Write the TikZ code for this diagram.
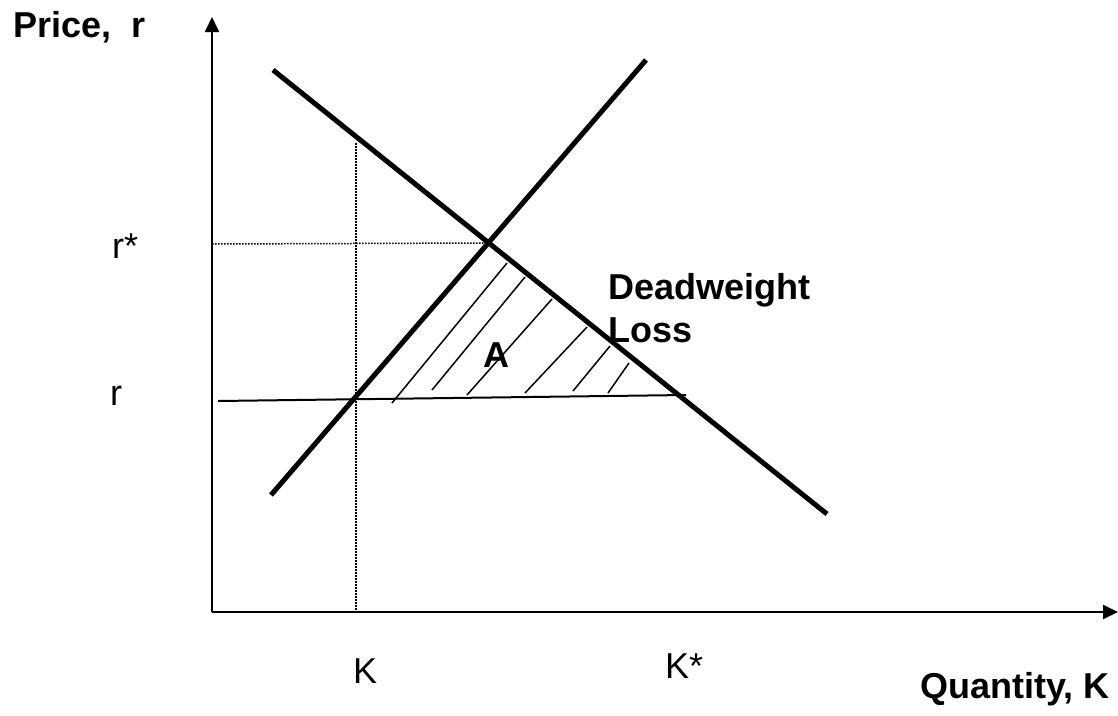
\documentclass[tikz,border=0pt]{standalone}
\usepackage{fontspec}
\setmainfont{Liberation Sans}
\usetikzlibrary{arrows.meta, positioning}

\begin{document}
\begin{tikzpicture}[x=1pt, y=-1pt,
  ax/.style={-{Triangle[length=15pt,width=14pt]}, line width=2pt},
  curve/.style={line width=5pt},
  guide/.style={line width=1.5pt, dash pattern=on 1.5pt off 1.5pt},
  hatch/.style={line width=1.5pt},
  lab/.style={font=\fontsize{36}{42}\selectfont, inner sep=0pt, anchor=base west},
  blab/.style={lab, font=\fontsize{36}{42}\selectfont\bfseries}]
  \useasboundingbox (0,0) rectangle (1118,715);
  % axes
  \coordinate (O) at (212,612);
  \coordinate (ytop) at (212,17);
  \coordinate (xend) at (1118,612);
  \draw[ax] (O) -- (ytop);
  \draw[ax] (O) -- (xend);
  % supply and demand
  \coordinate (s1) at (271,495);
  \coordinate (s2) at (646,60);
  \coordinate (d1) at (273,70);
  \coordinate (d2) at (827,514);
  \coordinate (E) at (488,243);
  % guides
  \coordinate (rs) at (212,244);
  \coordinate (kt) at (356,143);
  \coordinate (kb) at (356,612);
  \draw[guide] (rs) -- (E);
  \draw[guide] (kt) -- (kb);
  % hatching for area A
  \foreach \xa/\ya/\xb/\yb in {392/403/507/263, 432/390/525/277, 467/395/552/299,
                               525/393/587/327, 573/391/610/346, 608/393/629/363}
    \draw[hatch] (\xa,\ya) -- (\xb,\yb);
  % price line r
  \coordinate (r1) at (218,401);
  \coordinate (r2) at (686,395);
  \draw[line width=2pt] (r1) -- (r2);
  \draw[curve] (s1) -- (s2);
  \draw[curve] (d1) -- (d2);
  % labels
  \node[blab] (price) at (13,37) {Price,\ \ r};
  \node[blab, anchor=base east] (qty) at (1110,698) {Quantity, K};
  \node[lab] (rstar) at (112,258) {r*};
  \node[lab] (rlow) at (110,405) {r};
  \node[lab] (kl) at (353,683) {K};
  \node[lab] (kstar) at (665,678) {K*};
  \node[blab] (dwl) at (608,299) {Deadweight};
  \node[blab] (loss) at (608,342) {Loss};
  \node[blab] (areaA) at (483,367) {A};
\end{tikzpicture}
\end{document}
